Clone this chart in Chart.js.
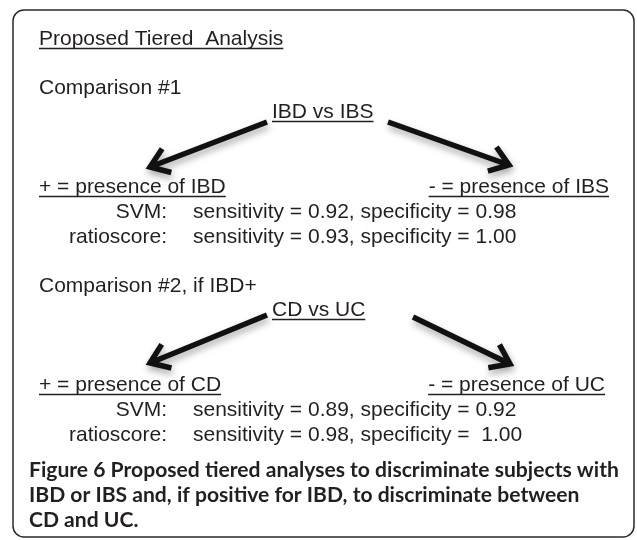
<!DOCTYPE html>
<html>
<head>
<meta charset="utf-8">
<script src="https://cdn.jsdelivr.net/npm/chart.js@4/dist/chart.umd.min.js"></script>
<style>
  html, body { margin: 0; background: #fff; }
  #wrap { width: 637px; height: 540px; }
</style>
</head>
<body>
<div id="wrap"><canvas id="tieredChart" width="637" height="540"></canvas></div>
<script>
// values
var heading = "Proposed Tiered  Analysis";
var comparisons = ["Comparison #1", "Comparison #2, if IBD+"];
var contrasts = ["IBD vs IBS", "CD vs UC"];
var positiveClass = ["IBD", "CD"];
var negativeClass = ["IBS", "UC"];
var methods = ["SVM", "ratioscore"];
var svmSensitivity = [0.92, 0.89];
var svmSpecificity = [0.98, 0.92];
var ratioSensitivity = [0.93, 0.98];
var ratioSpecificity = [1.0, 1.0];
var captionBold = "Figure 6";
var captionLines = [
  " Proposed tiered analyses to discriminate subjects with",
  "IBD or IBS and, if positive for IBD, to discriminate between",
  "CD and UC."
];

var ink = "#231f20";
var mainFont = "21px 'Liberation Sans', Arial, sans-serif";

function fmt(v) {
  return v.toFixed(2);
}

var diagramPlugin = {
  id: "tieredDiagram",
  afterDraw: function (chart) {
    var ctx = chart.ctx;
    var X = function (v) { return chart.scales.x.getPixelForValue(v); };
    var Y = function (v) { return chart.scales.y.getPixelForValue(v); };

    function text(str, x, y, align, underline) {
      ctx.font = mainFont;
      ctx.fillStyle = ink;
      ctx.textAlign = align || "left";
      ctx.textBaseline = "alphabetic";
      ctx.fillText(str, X(x), Y(y));
      if (underline) {
        var w = ctx.measureText(str).width;
        var x0 = X(x);
        if (align === "right") x0 -= w;
        if (align === "center") x0 -= w / 2;
        ctx.beginPath();
        ctx.lineWidth = 1.4;
        ctx.strokeStyle = ink;
        ctx.moveTo(x0, Y(y) + 3.5);
        ctx.lineTo(x0 + w, Y(y) + 3.5);
        ctx.stroke();
      }
    }

    function arrow(x1, y1, x2, y2) {
      var a = Math.atan2(Y(y2) - Y(y1), X(x2) - X(x1));
      var head = 22, spread = 0.62;
      ctx.save();
      ctx.shadowColor = "rgba(0,0,0,0.35)";
      ctx.shadowBlur = 7;
      ctx.shadowOffsetX = 1;
      ctx.shadowOffsetY = 4;
      ctx.strokeStyle = "#111";
      ctx.lineWidth = 5.5;
      ctx.lineCap = "butt";
      ctx.lineJoin = "miter";
      ctx.beginPath();
      ctx.moveTo(X(x1), Y(y1));
      ctx.lineTo(X(x2), Y(y2));
      ctx.moveTo(X(x2) - head * Math.cos(a - spread), Y(y2) - head * Math.sin(a - spread));
      ctx.lineTo(X(x2), Y(y2));
      ctx.lineTo(X(x2) - head * Math.cos(a + spread), Y(y2) - head * Math.sin(a + spread));
      ctx.stroke();
      ctx.restore();
    }

    // frame
    ctx.save();
    ctx.strokeStyle = "#2a2a2a";
    ctx.lineWidth = 1.5;
    ctx.beginPath();
    ctx.roundRect(X(13), Y(10), X(634) - X(13), Y(537) - Y(10), 11);
    ctx.stroke();
    ctx.restore();

    text(heading, 39, 45, "left", true);

    var rows = [
      [svmSensitivity, svmSpecificity],
      [ratioSensitivity, ratioSpecificity]
    ];
    var arrows = [
      [[267, 122, 150, 167], [388, 122, 509, 165]],
      [[267, 315, 150, 363], [413, 317, 510, 364]]
    ];
    comparisons.forEach(function (c, i) {
      var dy = i * 198;
      text(c, 39, 94 + dy, "left");
      text(contrasts[i], 272, 118 + dy - (i ? 0 : 0), "left", true);
      arrow.apply(null, arrows[i][0]);
      arrow.apply(null, arrows[i][1]);
      text("+ = presence of " + positiveClass[i], 39, 193 + dy, "left", true);
      text("- = presence of " + negativeClass[i], i ? 605 : 609, 193 + dy, "right", true);
      methods.forEach(function (m, j) {
        var y = 218 + dy + j * 24.5;
        text(m + ":", 167, y, "right");
        var gap = (i === 1 && j === 1) ? "  " : " ";
        text("sensitivity = " + fmt(rows[j][0][i]) + ", specificity =" + gap + fmt(rows[j][1][i]), 193, y, "left");
      });
    });

    // caption
    ctx.save();
    ctx.fillStyle = ink;
    ctx.textAlign = "left";
    ctx.font = "bold 100px Lato, 'Open Sans', sans-serif";
    var full = ctx.measureText(captionBold + captionLines[0]).width;
    var size = 100 * 590 / full;
    ctx.font = "bold " + size.toFixed(2) + "px Lato, 'Open Sans', sans-serif";
    var bw = ctx.measureText(captionBold).width;
    ctx.fillText(captionBold, X(29), Y(477));
    ctx.fillText(captionLines[0], X(29) + bw, Y(477));
    ctx.fillText(captionLines[1], X(29), Y(502));
    ctx.fillText(captionLines[2], X(29), Y(527));
    ctx.restore();
  }
};

var ctxT = document.getElementById("tieredChart").getContext("2d");
var tieredChart = new Chart(ctxT, {
  type: "scatter",
  data: { datasets: [] },
  plugins: [diagramPlugin],
  options: {
    responsive: false,
    animation: false,
    layout: { padding: 0 },
    plugins: { legend: { display: false }, tooltip: { enabled: false } },
    scales: {
      x: { type: "linear", min: 0, max: 637, display: false },
      y: { type: "linear", min: 0, max: 540, reverse: true, display: false }
    }
  }
});
</script>
</body>
</html>
